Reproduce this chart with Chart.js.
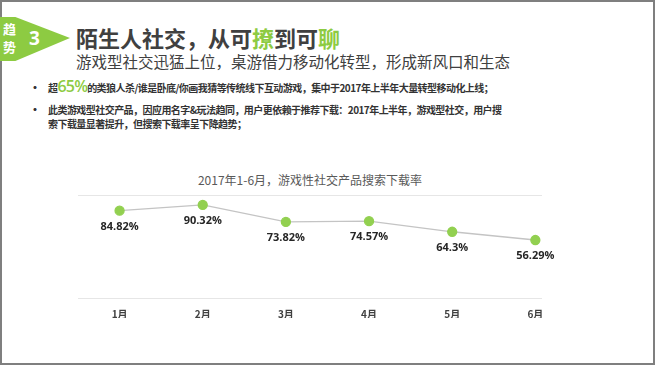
<!DOCTYPE html>
<html>
<head>
<meta charset="utf-8">
<script src="https://cdn.jsdelivr.net/npm/chart.js@4"></script>
<style>
  body { margin: 0; width: 655px; height: 365px; background: #fff; position: relative; overflow: hidden;
         font-family: "Noto Sans CJK SC", "Noto Sans", sans-serif; }
  .frame { position: absolute; left: 0; top: 0; width: 651px; height: 361px; border: 2px solid #7f7f7f; }
  .flag { position: absolute; left: 0; top: 17px; width: 70px; height: 44px; background: #8dcb42;
          clip-path: polygon(0 0, 22% 0, 100% 48%, 22% 100%, 0 100%); }
  .flagTxt { position: absolute; left: 3px; top: 20px; width: 16px; color: #fff; font-size: 13px; line-height: 18px; font-weight: bold; }
  .flagNum { position: absolute; left: 29px; top: 26px; color: #fff; font-size: 19px; font-weight: bold; font-family: "Open Sans", sans-serif; line-height: 24px; }
  .title { position: absolute; left: 76px; top: 23px; font-size: 22px; font-weight: bold; color: #404040; line-height: 28px; white-space: nowrap; }
  .title .g { color: #8dcb42; }
  .sub { position: absolute; left: 76px; top: 51px; font-size: 15.5px; color: #404040; line-height: 20px; white-space: nowrap; }
  .bullets { position: absolute; left: 48px; top: 81px; font-size: 10px; letter-spacing: -0.55px; font-weight: bold; color: #333; line-height: 14px; }
  .bullets p { margin: 0 0 8px 0; position: relative; white-space: nowrap; }
  .bullets p::before { content: "•"; position: absolute; left: -19px; top: 0; font-size: 12px; font-weight: bold; }
  .big { color: #8dcb42; font-size: 16px; letter-spacing: -0.8px; font-family: "Open Sans", sans-serif; font-weight: 600; line-height: 10px; }
  .ctitle { position: absolute; left: 0; width: 620px; top: 171px; text-align: center; font-size: 12px; color: #595959; }
  #wrap { position: absolute; left: 0; top: 160px; width: 640px; height: 170px; }
</style>
</head>
<body>
<div class="frame"></div>
<div class="flag"></div>
<div class="flagTxt">趋<br>势</div>
<div class="flagNum">3</div>
<div class="title">陌生人社交，从可<span class="g">撩</span>到可<span class="g">聊</span></div>
<div class="sub">游戏型社交迅猛上位，桌游借力移动化转型，形成新风口和生态</div>
<div class="bullets">
  <p>超<span class="big">65%</span>的类狼人杀/谁是卧底/你画我猜等传统线下互动游戏，集中于2017年上半年大量转型移动化上线；</p>
  <p>此类游戏型社交产品，因应用名字&amp;玩法趋同，用户更依赖于推荐下载：2017年上半年，游戏型社交，用户搜<br>索下载量显著提升，但搜索下载率呈下降趋势；</p>
</div>
<div class="ctitle">2017年1-6月，游戏性社交产品搜索下载率</div>
<div id="wrap"><canvas id="chart"></canvas></div>
<script>
const months = ["1月", "2月", "3月", "4月", "5月", "6月"];
const rates = [84.82, 90.32, 73.82, 74.57, 64.3, 56.29];

const pointLabels = {
  id: "pointLabels",
  afterDatasetsDraw(chart) {
    const c = chart.ctx;
    const meta = chart.getDatasetMeta(0);
    c.save();
    c.font = "bold 11px 'Open Sans', 'Noto Sans', sans-serif";
    c.fillStyle = "#262626";
    c.textAlign = "center";
    c.textBaseline = "middle";
    meta.data.forEach((pt, i) => {
      c.fillText(rates[i] + "%", pt.x, pt.y + 16);
    });
    c.restore();
  }
};

const ctx = document.getElementById("chart").getContext("2d");
new Chart(ctx, {
  type: "line",
  data: {
    datasets: [{
      data: rates.map((v, i) => ({ x: i, y: v })),
      borderColor: "#c4c4c4",
      borderWidth: 1.3,
      pointBackgroundColor: "#92d050",
      pointBorderColor: "#92d050",
      pointRadius: 4.5,
      tension: 0
    }]
  },
  options: {
    responsive: true,
    maintainAspectRatio: false,
    animation: false,
    layout: { padding: { left: 78, right: 98, top: 35, bottom: 12 } },
    plugins: { legend: { display: false }, tooltip: { enabled: false } },
    scales: {
      x: {
        type: "linear",
        min: -0.5,
        max: 5.08,
        afterBuildTicks: s => { s.ticks = months.map((m, i) => ({ value: i })); },
        afterFit: s => { s.height = 20; },
        grid: { display: false, drawTicks: false },
        border: { display: false },
        ticks: {
          padding: 10,
          color: "#404040",
          font: { size: 10, weight: "bold", family: "'Noto Sans CJK SC', sans-serif" },
          callback: v => months[v]
        }
      },
      y: {
        min: 0,
        max: 100,
        afterFit: s => { s.width = 0; },
        ticks: { display: false, stepSize: 100 },
        grid: { color: "#e6e6e6", drawTicks: false },
        border: { display: false }
      }
    }
  },
  plugins: [pointLabels]
});
</script>
</body>
</html>
